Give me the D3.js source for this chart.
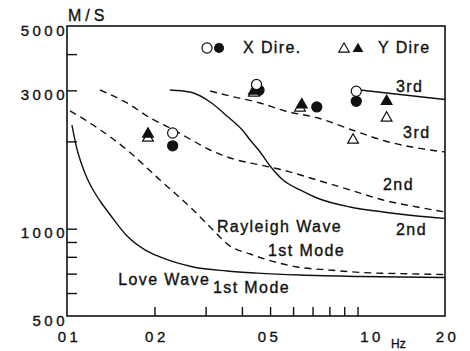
<!DOCTYPE html>
<meta charset="utf-8">
<style>
body { margin: 0; background: #fff; }
text { font-family: "Liberation Sans", Arial, sans-serif; fill: #111; stroke: #111; stroke-width: 0.35px; }
.curve { fill: none; stroke: #111; stroke-width: 1.4px; }
.dash { stroke-dasharray: 7,5; }
.frame { fill: none; stroke: #111; stroke-width: 1.6px; }
.axis path { display: none; }
.axis line { stroke: #111; stroke-width: 1.4px; }
.lbl { font-size: 16px; letter-spacing: 1.4px; }
.tick text { font-size: 15px; letter-spacing: 3.5px; }
</style>
<body>
<script src="https://d3js.org/d3.v7.min.js"></script>
<script>

var width = 470, height = 351;
var plotL = 67, plotT = 26, plotR = 445, plotB = 316;

// Love wave (solid)
var love1F = [0.104, 0.108, 0.1135, 0.118, 0.123, 0.130, 0.141, 0.161, 0.186, 0.209, 0.272, 0.355, 0.451, 0.634, 1.02, 2.0];
var love1V = [2278, 1898, 1619, 1472, 1360, 1246, 1115, 943, 844, 799, 738, 715, 703, 692, 684, 679];
var love2F = [0.226, 0.265, 0.311, 0.355, 0.404, 0.427, 0.462, 0.500, 0.554, 0.634, 0.725, 0.942, 1.224, 1.603, 2.0];
var love2V = [3008, 2960, 2735, 2447, 2172, 2022, 1839, 1645, 1472, 1360, 1276, 1188, 1142, 1106, 1085];
var love3F = [1.02, 1.40, 2.0];
var love3V = [3008, 2902, 2789];

// Rayleigh wave (dashed)
var ray1F = [0.1024, 0.123, 0.161, 0.209, 0.272, 0.318, 0.364, 0.427, 0.480, 0.619, 0.804, 1.044, 1.40, 2.0];
var ray1V = [2547, 2278, 1868, 1472, 1160, 990, 871, 818, 786, 738, 720, 706, 700, 695];
var ray2F = [0.130, 0.161, 0.196, 0.230, 0.261, 0.311, 0.373, 0.462, 0.554, 0.725, 0.942, 1.224, 1.603, 2.0];
var ray2V = [3008, 2714, 2390, 2207, 2055, 1868, 1740, 1659, 1593, 1472, 1360, 1256, 1188, 1142];
var ray3F = [0.311, 0.364, 0.462, 0.563, 0.731, 0.958, 1.244, 1.603, 2.0];
var ray3V = [2984, 2868, 2714, 2547, 2408, 2190, 2007, 1898, 1839];

// observed points
var xFilledF = [0.231, 0.458, 0.724, 0.990];
var xFilledV = [1931, 3000, 2629, 2750];
var xOpenF = [0.231, 0.449, 0.990];
var xOpenV = [2138, 3142, 2978];
var yOpenF = [0.190, 0.440, 0.634, 1.259, 0.965];
var yOpenV = [2055, 2937, 2608, 2408, 2022];
var yFilledF = [0.190, 0.440, 0.643, 1.259];
var yFilledV = [2121, 2984, 2675, 2750];

// ticks
var xLabelVals = [0.1, 0.2, 0.5, 1.0, 2.0];
var xLabelText = ["01", "02", "05", "10", "20"];
var xMinor = [0.2, 0.3, 0.4, 0.5, 0.6, 0.7, 0.8, 0.9, 1.0];
var yLabelVals = [500, 1000, 3000, 5000];
var yMinor = [600, 700, 800, 900, 1000, 2000, 3000, 4000];

// curve labels: text, freq, velocity at text start/baseline
var labels = [
  ["Rayleigh Wave", 0.328, 978],
  ["1st Mode", 0.492, 808],
  ["2nd", 1.357, 955],
  ["2nd", 1.224, 1355],
  ["3rd", 1.435, 2047],
  ["3rd", 1.357, 2972],
  ["Love Wave", 0.150, 642],
  ["1st Mode", 0.318, 598]
];

var x = d3.scaleLog().domain([0.1, 2.0]).range([plotL, plotR]);
var y = d3.scaleLog().domain([500, 5000]).range([plotB, plotT]);

var svg = d3.select("body").append("svg")
    .attr("width", width)
    .attr("height", height);

// ticks inside the frame
svg.append("g").attr("class", "axis")
  .attr("transform", "translate(" + plotL + ",0)")
  .call(d3.axisLeft(y).tickValues(yMinor).tickSize(-10).tickFormat(""));
svg.append("g").attr("class", "axis")
  .attr("transform", "translate(0," + plotB + ")")
  .call(d3.axisBottom(x).tickValues(xMinor).tickSize(-9).tickFormat(""));

// tick labels
var yl = svg.append("g").attr("class", "axis")
  .attr("transform", "translate(" + (plotL + 1) + ",0)")
  .call(d3.axisLeft(y).tickValues(yLabelVals).tickSize(0).tickFormat(d3.format("d")));
yl.selectAll("text").attr("dy", "0.6em").attr("x", 0);

var xl = svg.append("g").attr("class", "axis")
  .attr("transform", "translate(0," + plotB + ")")
  .call(d3.axisBottom(x).tickValues(xLabelVals).tickSize(0)
    .tickFormat(function(d, i){ return xLabelText[i]; }));
xl.selectAll("text").attr("y", 15).attr("dx", function(d, i){ return i == 3 ? 14 : (i == 2 ? -1 : 2); });

svg.append("rect").attr("class", "frame")
  .attr("x", plotL).attr("y", plotT)
  .attr("width", plotR - plotL).attr("height", plotB - plotT);

svg.append("text").attr("x", 68).attr("y", 21)
  .style("font-size", "16px").style("letter-spacing", "4px").text("M/S");
svg.append("text").attr("x", 391).attr("y", 348)
  .style("font-size", "12px").text("Hz");

// curves
var line = d3.line()
  .x(function(d){ return x(d[0]); })
  .y(function(d){ return y(d[1]); })
  .curve(d3.curveMonotoneX);

function curve(f, v, dashed) {
  svg.append("path")
    .datum(d3.zip(f, v))
    .attr("class", dashed ? "curve dash" : "curve")
    .attr("d", line);
}
curve(love1F, love1V, false);
curve(love2F, love2V, false);
curve(love3F, love3V, false);
curve(ray1F, ray1V, true);
curve(ray2F, ray2V, true);
curve(ray3F, ray3V, true);

svg.selectAll(".clbl").data(labels).enter().append("text")
  .attr("class", "lbl")
  .attr("x", function(d){ return x(d[1]); })
  .attr("y", function(d){ return y(d[2]); })
  .text(function(d){ return d[0]; });

// markers
var circ = d3.symbol().type(d3.symbolCircle).size(80);
var tri = d3.symbol().type(d3.symbolTriangle).size(50);

function marks(f, v, sym, filled) {
  svg.append("g").selectAll("path")
    .data(d3.zip(f, v)).enter().append("path")
    .attr("d", sym)
    .attr("transform", function(d){ return "translate(" + x(d[0]) + "," + y(d[1]) + ")"; })
    .attr("fill", filled ? "#111" : "#fff")
    .attr("stroke", "#111")
    .attr("stroke-width", 1.2);
}
marks(xFilledF, xFilledV, circ, true);
marks(yOpenF, yOpenV, tri, false);
marks(yFilledF, yFilledV, tri, true);
marks(xOpenF, xOpenV, circ, false);

// legend
var lg = svg.append("g");
lg.append("path").attr("d", circ).attr("transform", "translate(207,48)")
  .attr("fill", "#fff").attr("stroke", "#111").attr("stroke-width", 1.2);
lg.append("path").attr("d", circ).attr("transform", "translate(219,48)")
  .attr("fill", "#111");
lg.append("text").attr("class", "lbl").attr("x", 243).attr("y", 53).text("X Dire.");
lg.append("path").attr("d", tri).attr("transform", "translate(344,49)")
  .attr("fill", "#fff").attr("stroke", "#111").attr("stroke-width", 1.1);
lg.append("path").attr("d", tri).attr("transform", "translate(358,49)")
  .attr("fill", "#111");
lg.append("text").attr("class", "lbl").attr("x", 378).attr("y", 53).text("Y Dire");

</script>
